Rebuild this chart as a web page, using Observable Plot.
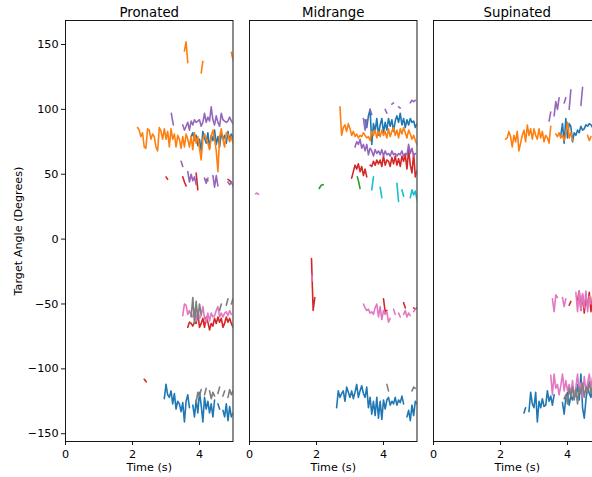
<!DOCTYPE html>
<html><head><meta charset="utf-8">
<script src="https://cdn.jsdelivr.net/npm/d3@7"></script>
<script src="https://cdn.jsdelivr.net/npm/@observablehq/plot@0.6"></script>
<style>
html,body{margin:0;padding:0;background:#fff;overflow:hidden}
#wrap{position:relative;width:592px;height:477px;overflow:hidden;background:#fff}
#wrap svg{position:absolute;top:0}
</style></head><body><div id="wrap"></div>
<script>
// ---------- data ----------
const panelTitles = ["Pronated", "Midrange", "Supinated"];
const xLabel = "Time (s)";
const yLabel = "Target Angle (Degrees)";
const xTicks = [0, 2, 4];
const yTicks = [-150, -100, -50, 0, 50, 100, 150];

// Pronated
const pron_orange = [86,84,79,82,71,70,85,84,77,81,79,71,68,86,83,77,85,77,83,71,85,77,81,71,80,77,70,79,71,81,77,71,79,69,82,74,79,70,61,77,81,77,74,69,79,84,77,68,52,79,85,77,71,82,81,75,79,74];
const pron_orange_up = [145,152,136,null,null,null,null,null,null,null,128,137,null,null,null,null,null,null,null,null,null,null,null,null,null,null,null,null,144,138];
const pron_blue_up = [79,82,76,80,72,77,68,83,78,74,82,70,80,76,84,73,79,71,82,77,80,74,83,76,81,78];
const pron_purple_up1 = [97,92,88];
const pron_purple_up = [88,84,87,90,84,91,88,92,90,91,92,87,90,97,90,94,91,102,92,88,95,90,87,97,92,91,90,91,94,91,89];
const pron_purple_low = [60,56,null,null,52,44,50,45,48,42,null,null,null,null,47,43,47,null,null,49,40,49,41,null,null,null,null,null,44,42,44,41];
const pron_red_up = [48,46,null,null,null,null,null,null,null,null,48,44,41,null,null,null,null,null,51,38,null,null,null,null,46,45,null,null,null,null,null,null,null,null,null,null,null,46,45,44];
const pron_pink = [-59,-50,-51,-58,-55,-59,-60,-54,-63,-55,-61,-59,-52,-61,-64,-57,-63,-57,-60,-59,-55,-52,-60,-57,-60,-57,-56,-59,-55,-58];
const pron_red_low = [-68,-64,-65,-67,-64,-65,-57,-68,-65,-61,-68,-60,-64,-70,-65,-67,-61,-65,-60,-64,-61,-68,-65,-60,-64,-61,-65,-68];
const pron_gray_mid = [-60,-45,-65,-48,-62,-50,-58,null,null,null,null,null,null,null,null,null,null,-55,-50,null,null,-51,-46,null,-50,-46];
const pron_red_tiny = [-108,-110];
const pron_blue_low = [-123,-112,-120,-122,-117,-127,-119,-131,-125,-127,-133,-126,-141,-125,-120,-130,null,-128,-137,-124,-134,-118,-128,-141,-122,-131,-125,-134,-127,-137,-124,null,-127,-131,null,-132,-137,-127,-140,-129,-137,-134];
const pron_gray_low = [-126,-118,-121,-116,null,-120,-115,null,-117,-123,-118,-121,null,-119,-114,null,-121,-117,null,-122,-116,-120,-117];

// Midrange
const mid_orange = [102,80,86,88,83,89,85,80,83,79,81,78,80,79,82,80,78,79,76,83,80,84,78,83,79,84,80,83,78,85,79,83,86,80,84,78,85,81,86,82,78,84,81,77,80,76,73];
const mid_blue = [92,86,95,100,73,89,83,93,80,88,93,82,90,84,93,87,92,83,91,95,90,97,88,93,86,92,88,93,90,91,86,89];
const mid_purple_up = [93,84,92,null,100,96,null,null,null,null,null,null,null,100,97,null,null,104,105,null,null,102,101,null,null,null,null,null,105,107,106,107];
const mid_purple_low = [71,75,73,77,70,73,68,73,65,70,68,64,69,66,68,65,69,64,68,65,66,64,68,65,66,64,66,65,68,64,66,65,73,66,70,64,66];
const mid_red = [47,52,57,54,58,52,56,49,54,48,null,57,56,60,57,61,58,61,56,64,57,61,60,56,63,58,64,57,62,56,64,60,65,54,69,57,51,66,48,53];
const mid_green_a = [39,41.5,42];
const mid_green_b = [48,44,39];
const mid_cyan = [38,48,null,null,null,40,32,null,null,null,null,null,null,null,null,43,29,null,38,33,null,null,null,32,38,34,37,30];
const mid_pink_tiny = [35,35.5,34.5];
const mid_red_vert = [-15,-35,-55,-50,-45];
const mid_pink_tick = [-28,-32];
const mid_pink = [-50,-53,-55,-54,-57,-56,-58,-53,-50,-60,-52,-62,-55,-58,-56,-64,-61,null,-54,-58,null,-57,-60,null,-58,-55,-60,-57,-59,null,-56,-54];
const mid_red_low = [-46,-56,-55,null,null,null,null,null,null,null,null,null,-49,-53,null,null,null,null,-53,-54,-53];
const mid_blue_low = [-130,-117,-122,-119,-117,-125,-114,-118,-122,-117,-123,-118,-112,-122,-117,-113,-119,-122,-114,-130,-122,-135,-125,-136,-122,-138,-125,-139,-124,-131,-124,-122,-128,-125,-127,-122,-128,-124,-126,-121,-127,null,-137,-132,-140,-128,-136,-125,-127];
const mid_gray = [-112,-117,null,null,null,null,null,null,null,null,null,null,null,null,null,-117,-114,-115];

// Supinated
const sup_orange = [77,78,83,79,71,80,75,83,68,74,80,84,75,88,80,85,77,85,80,77,85,78,83,75,80,78,74,87,null,null,81,79,82,78,80,76,81,90,78,82,76,null,null,null,null,null,null,null,null,80,76,79];
const sup_blue = [80,89,74,93,78,89,87,75,82,80,84,82,87,84,85,88,87,89,88,86,89,85,88,84,87];
const sup_purple = [91,98,null,95,106,100,109,null,null,105,109,null,100,115,null,null,null,null,null,103,117];
const sup_pink_up = [-46,-56,-43,-45,null,null,-45,-52,-46,null,null,null,null,null,-41,-56,-40,-55,-42,-53,-40,-56,-44,-50];
const sup_red_up = [-51,-48,null,null,null,-47,-40,-55,-43,-57,-45,-52,-41,-56,-44,-53,-47,-55,-42,-50];
const sup_blue_low = [-134,-130,null,-133,-118,-127,-130,-118,-141,-125,-130,-123,-129,-128,-117,-125,-121,-128,-120,null,null,null,null,-126,-135,-122,-118,-128,-121,-124,-118,-121,-112,-124,-104,-130,-138,-124,-114,-119,-122,-112,-120,-126,-118,-123,-117];
const sup_pink_low = [-105,-120,-104,-115,-112,-120,-113,-104,-117,-109,-117,-112,-120,-109,-122,-114,-104,-118,-111,-122,-106,-117,-111,-104,-114,-106,-115,-109,-118,-112,-108];
const sup_gray = [-123,-120,-127,-115,-121,-114,-124,-116,-127,-114,-119,-111,-122,-114,-118,-110,-119,-114,-120,-113,-118,-115,-121];

// series table: [panel, colour name, start time (s), sample step (s), values]
const series = [
  [0,"blue",3.75,0.05,pron_blue_up],[0,"blue",2.95,0.05,pron_blue_low],
  [0,"orange",2.15,0.05,pron_orange],[0,"orange",3.55,0.05,pron_orange_up],
  [0,"red",3.0,0.05,pron_red_up],[0,"red",3.65,0.05,pron_red_low],[0,"red",2.35,0.06,pron_red_tiny],
  [0,"purple",3.16,0.03,pron_purple_up1],[0,"purple",3.5,0.05,pron_purple_up],[0,"purple",3.45,0.05,pron_purple_low],
  [0,"pink",3.5,0.05,pron_pink],
  [0,"gray",3.75,0.05,pron_gray_mid],[0,"gray",3.9,0.05,pron_gray_low],

  [1,"blue",3.45,0.05,mid_blue],[1,"blue",2.6,0.05,mid_blue_low],
  [1,"orange",2.7,0.05,mid_orange],
  [1,"green",2.08,0.06,mid_green_a],[1,"green",3.22,0.04,mid_green_b],
  [1,"red",3.05,0.05,mid_red],[1,"red",1.85,0.025,mid_red_vert],[1,"red",4.0,0.05,mid_red_low],
  [1,"purple",3.4,0.05,mid_purple_up],[1,"purple",3.15,0.05,mid_purple_low],
  [1,"pink",0.18,0.045,mid_pink_tiny],[1,"pink",1.86,0.02,mid_pink_tick],[1,"pink",3.4,0.05,mid_pink],
  [1,"gray",4.1,0.05,mid_gray],
  [1,"cyan",3.65,0.05,mid_cyan],

  [2,"blue",3.8,0.05,sup_blue],[2,"blue",2.7,0.05,sup_blue_low],
  [2,"orange",2.15,0.05,sup_orange],
  [2,"red",4.05,0.05,sup_red_up],
  [2,"purple",3.45,0.05,sup_purple],
  [2,"pink",3.55,0.05,sup_pink_up],[2,"pink",3.5,0.05,sup_pink_low],
  [2,"gray",3.9,0.05,sup_gray]
];

const colors = {blue:"#1f77b4",orange:"#ff7f0e",green:"#2ca02c",red:"#d62728",purple:"#9467bd",pink:"#e377c2",gray:"#7f7f7f",cyan:"#17becf"};
const order = ["blue","orange","green","red","purple","pink","gray","cyan"];

// ---------- drawing ----------
const wrap = document.getElementById("wrap");
const FRAME_W = 167.5, STEP = 184, MR = 6, FS = 11.2;
panelTitles.forEach((title, p) => {
  const ML = p === 0 ? 65 : 10;
  const mine = series.filter(s => s[0] === p)
    .sort((a, b) => order.indexOf(a[1]) - order.indexOf(b[1]));
  const lines = mine.map(([, c, t0, dt, vals]) =>
    Plot.line(vals.map((v, i) => ({t: t0 + i * dt, v: v == null ? NaN : v})),
      {x: "t", y: "v", stroke: colors[c], strokeWidth: 1.6, clip: true}));
  const marks = [
    ...lines,
    Plot.frame({stroke: "black", strokeWidth: 0.9}),
    Plot.axisX({ticks: xTicks, tickFormat: d => String(d), tickSize: 4, tickPadding: 5, strokeWidth: 0.9,
      fontSize: FS, label: null}),
    Plot.text([xLabel], {text: d => d, frameAnchor: "bottom", textAnchor: "middle", dy: 29, lineAnchor: "bottom", fontSize: FS}),
    Plot.text([title], {text: d => d, frameAnchor: "top", textAnchor: "middle", dy: -4, lineAnchor: "bottom", fontSize: 13.3})
  ];
  if (p === 0) {
    marks.push(Plot.axisY({ticks: yTicks, tickSize: 4, tickPadding: 3, strokeWidth: 0.9, fontSize: FS, label: null}));
    marks.push(Plot.text([yLabel], {text: d => d, frameAnchor: "left", textAnchor: "middle", rotate: -90, dx: -47, lineAnchor: "middle", fontSize: FS}));
  }
  const svg = Plot.plot({
    width: ML + FRAME_W + MR, height: 477,
    marginLeft: ML, marginRight: MR, marginTop: 20, marginBottom: 36,
    x: {domain: [0, 5]},
    y: {domain: [-156, 168.5], axis: p === 0 ? undefined : null},
    style: {fontFamily: "DejaVu Sans", fontSize: "11px", background: "transparent", color: "black", overflow: "visible"},
    marks
  });
  svg.style.left = (65 + STEP * p - ML) + "px";
  wrap.appendChild(svg);
});
</script></body></html>
